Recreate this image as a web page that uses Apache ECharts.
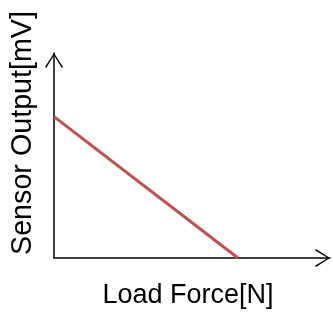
<!DOCTYPE html>
<html>
<head>
<meta charset="utf-8">
<script src="https://cdn.jsdelivr.net/npm/echarts@6/dist/echarts.min.js"></script>
<style>
  html, body { margin: 0; padding: 0; background: #fff; }
  #main { width: 333px; height: 312px; }
</style>
</head>
<body>
<div id="main"></div>
<script>
const loadForce = [0, 100];
const sensorOutput = [100, 0];
const xName = 'Load Force[N]';
const yName = 'Sensor Output[mV]';

const chartDom = document.getElementById('main');
const myChart = echarts.init(chartDom);

// open chevron arrow head, tip at top
const arrowPath = 'path://M9,0 L18,14 L16.8,15 L9,2.2 L1.2,15 L0,14 Z';

const axisCommon = {
  type: 'value',
  min: 0,
  axisLabel: { show: false },
  axisTick: { show: false },
  splitLine: { show: false },
  axisLine: {
    show: true,
    onZero: false,
    symbol: ['none', arrowPath],
    symbolSize: [18, 15],
    symbolOffset: [0, -7.5],
    lineStyle: { color: '#000', width: 1.5 }
  }
};

const option = {
  animation: false,
  grid: { left: 54, top: 53, right: 3, bottom: 54 },
  xAxis: Object.assign({}, axisCommon, { max: 150 }),
  yAxis: Object.assign({}, axisCommon, { max: 145 }),
  graphic: [
    {
      type: 'text',
      x: 188, y: 296,
      style: {
        text: xName, fill: '#000', font: '27px "Liberation Sans", Arial, sans-serif',
        align: 'center', verticalAlign: 'middle'
      }
    },
    {
      type: 'text',
      x: 23, y: 133, rotation: Math.PI / 2,
      style: {
        text: yName, fill: '#000', font: '28.7px "Liberation Sans", Arial, sans-serif',
        align: 'center', verticalAlign: 'middle'
      }
    }
  ],
  series: [
    {
      type: 'line',
      data: loadForce.map((f, i) => [f, sensorOutput[i]]),
      showSymbol: false,
      lineStyle: { color: '#c0504d', width: 3 }
    }
  ]
};

myChart.setOption(option);
</script>
</body>
</html>
